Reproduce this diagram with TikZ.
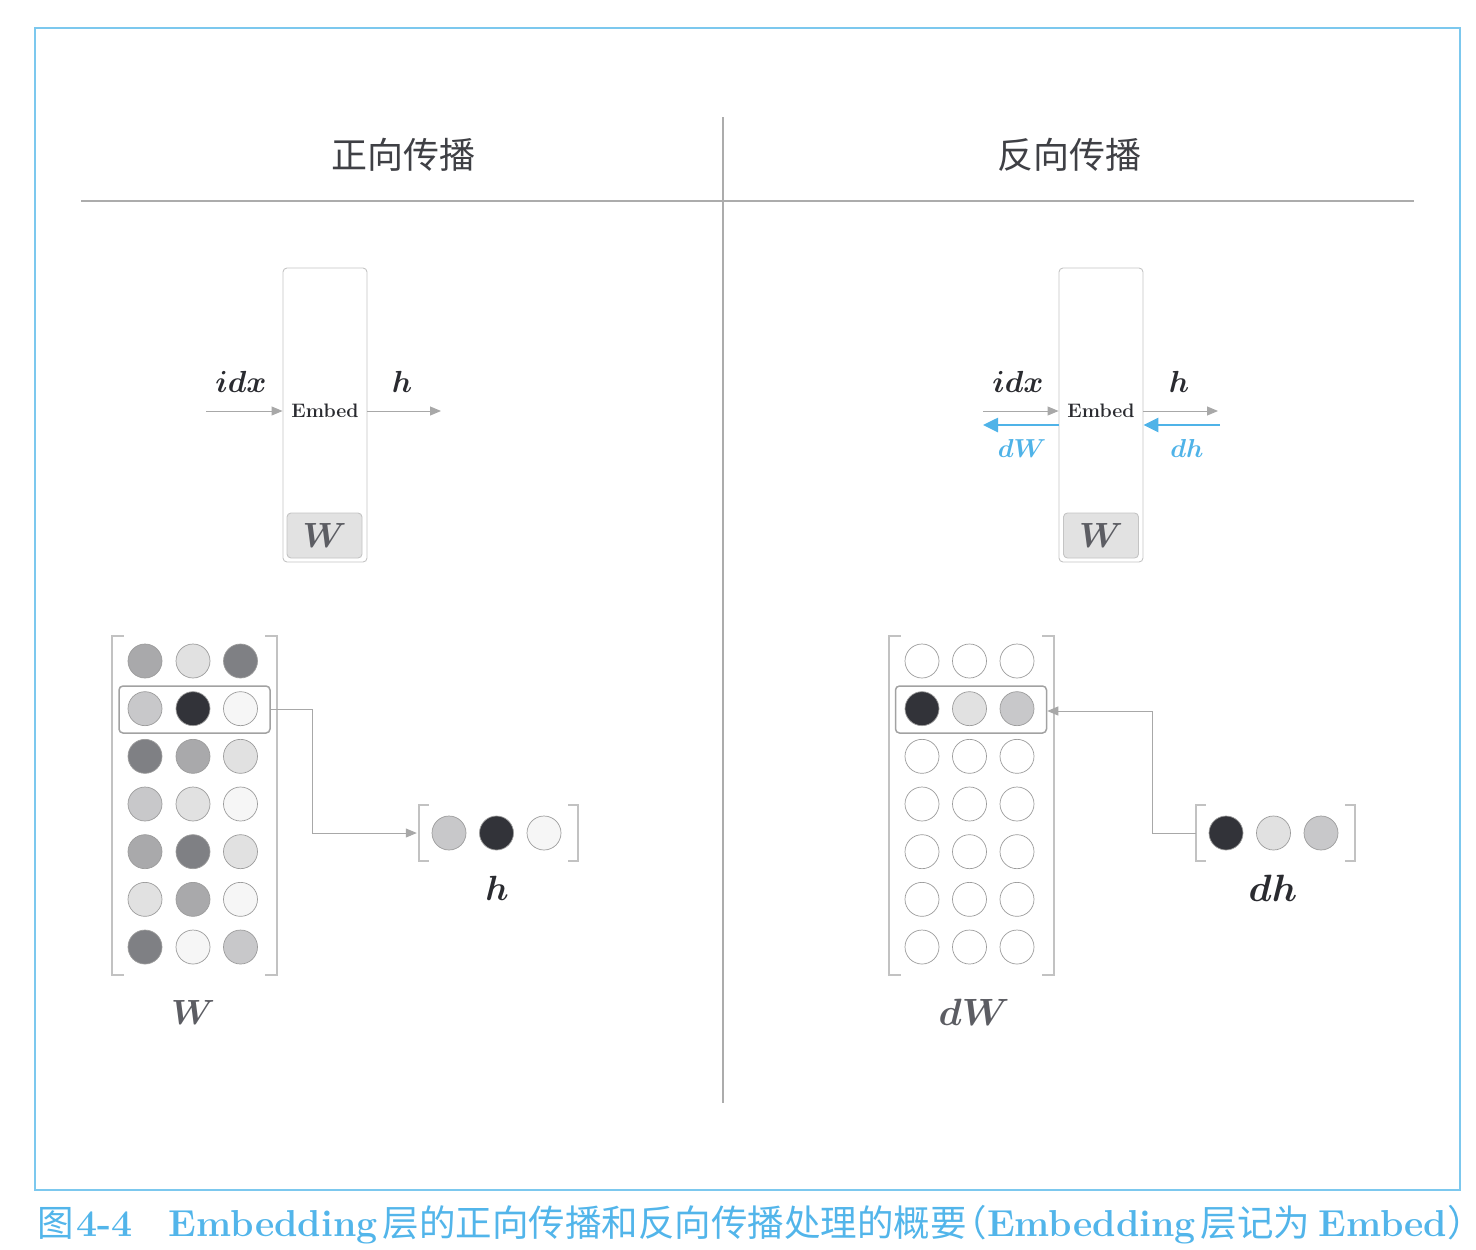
\RequirePackage{fix-cm}
\documentclass[tikz,border=0pt]{standalone}
\usepackage{fontspec}
\usepackage{bm}
\newfontfamily\cjk{Noto Sans CJK SC}
\usetikzlibrary{arrows.meta,calc}
\definecolor{framebl}{HTML}{7CC8EE}
\definecolor{capblue}{HTML}{52B5EA}
\definecolor{arrblue}{HTML}{4FB3E8}
\definecolor{sepgray}{HTML}{ACACAC}
\definecolor{boxgray}{HTML}{C4C4C4}
\definecolor{wfill}{HTML}{E2E2E2}
\definecolor{wtext}{HTML}{5C5D63}
\definecolor{txt}{HTML}{2A2B30}
\definecolor{arrgray}{HTML}{A8A8A8}
\definecolor{cellline}{HTML}{9C9C9C}
\definecolor{rowgray}{HTML}{A2A2A2}
\definecolor{brkgray}{HTML}{C2C2C2}
\definecolor{ga}{HTML}{A9A9AB}
\definecolor{gb}{HTML}{E1E1E1}
\definecolor{gc}{HTML}{7F8084}
\definecolor{gd}{HTML}{C8C8CA}
\definecolor{ge}{HTML}{323339}
\definecolor{gf}{HTML}{F6F6F6}
\newcommand{\latcap}[1]{{\rmfamily\bfseries\fontsize{37.5}{40}\selectfont #1}}
\tikzset{
  frame/.style={draw=framebl, line width=1.2pt},
  sepline/.style={draw=sepgray, line width=1.8pt},
  embbox/.style={draw=boxgray, line width=0.9pt, rounded corners=4pt, minimum width=84pt, minimum height=294pt, inner sep=0pt},
  wbox/.style={draw=boxgray, fill=wfill, line width=0.9pt, rounded corners=4pt, minimum width=75pt, minimum height=45pt, inner sep=0pt, text=wtext, font=\fontsize{35}{40}\selectfont},
  embtext/.style={text=txt, font=\fontsize{19.5}{24}\selectfont\bfseries, inner sep=0pt},
  heading/.style={text=txt!90, font=\cjk\fontsize{36}{40}\selectfont, inner sep=0pt},
  mlabel/.style={text=txt, font=\fontsize{30.5}{34}\selectfont, inner sep=0pt},
  blabel/.style={text=arrblue, font=\fontsize{26}{30}\selectfont, inner sep=0pt},
  biglabel/.style={font=\fontsize{35}{40}\selectfont, inner sep=0pt},
  dlabel/.style={font=\fontsize{38}{42}\selectfont, inner sep=0pt},
  cell/.style={circle, draw=cellline, line width=0.7pt, minimum size=34pt, inner sep=0pt},
  arr/.style={draw=arrgray, line width=1pt, -{Triangle[length=11pt,width=9pt]}},
  barr/.style={draw=arrblue, line width=2.6pt, -{Triangle[length=15pt,width=14pt]}},
  rowbox/.style={draw=rowgray, line width=1.5pt, rounded corners=4pt, minimum width=151pt, minimum height=47pt, inner sep=0pt},
  brk/.style={draw=brkgray, line width=1.5pt},
  matbox/.style={minimum width=165pt, minimum height=339pt, inner sep=0pt},
  vecbox/.style={minimum width=159pt, minimum height=56pt, inner sep=0pt},
}
\begin{document}
\begin{tikzpicture}[x=1pt,y=-1pt]
\useasboundingbox (0,0) rectangle (1476,1250);
% frame
\draw[frame] (35,28) rectangle (1460,1190);
% separators
\coordinate (hl) at (81,201);
\coordinate (hr) at (1414,201);
\coordinate (vt) at (723,117);
\coordinate (vb) at (723,1103);
\draw[sepline] (hl) -- (hr);
\draw[sepline] (vt) -- (vb);
% headings
\node[heading] (h1) at (403,155) {正向传播};
\node[heading] (h2) at (1069,155) {反向传播};

% ---------- forward Embed ----------
\node[embbox] (emb1) at (325,415) {};
\node[wbox] (wb1) at (324.5,535.5) {$\bm{W}$};
\node[embtext] (et1) at (325,411) {Embed};
\coordinate (idx1s) at (206,411);
\coordinate (h1e) at (441,411);
\draw[arr] (idx1s) -- (idx1s -| emb1.west);
\draw[arr] (h1e -| emb1.east) -- (h1e);
\node[mlabel] (lidx1) at (241,382) {$\bm{idx}$};
\node[mlabel] (lh1) at (402,382) {$\bm{h}$};

% ---------- backward Embed ----------
\node[embbox] (emb2) at (1101,415) {};
\node[wbox] (wb2) at (1101,535.5) {$\bm{W}$};
\node[embtext] (et2) at (1101,411) {Embed};
\coordinate (idx2s) at (983,411);
\coordinate (h2e) at (1218,411);
\draw[arr] (idx2s) -- (idx2s -| emb2.west);
\draw[arr] (h2e -| emb2.east) -- (h2e);
\coordinate (dWe) at (983,425);
\coordinate (dhs) at (1220,425);
\draw[barr] (dWe -| emb2.west) -- (dWe);
\draw[barr] (dhs) -- (dhs -| emb2.east);
\node[mlabel] (lidx2) at (1018,382) {$\bm{idx}$};
\node[mlabel] (lh2) at (1179,382) {$\bm{h}$};
\node[blabel] (ldW) at (1022,448) {$\bm{dW}$};
\node[blabel] (ldh) at (1187,448) {$\bm{dh}$};

% ---------- W matrix ----------
\node[matbox] (wmat) at (194.5,805.5) {};
\draw[brk] ([xshift=12pt]wmat.north west) -- (wmat.north west) -- (wmat.south west) -- ([xshift=12pt]wmat.south west);
\draw[brk] ([xshift=-12pt]wmat.north east) -- (wmat.north east) -- (wmat.south east) -- ([xshift=-12pt]wmat.south east);
\foreach \r/\a/\b/\c in {1/ga/gb/gc, 2/gd/ge/gf, 3/gc/ga/gb, 4/gd/gb/gf, 5/ga/gc/gb, 6/gb/ga/gf, 7/gc/gf/gd}{
  \node[cell, fill=\a] (w-\r-1) at (145,{661+(\r-1)*47.67}) {};
  \node[cell, fill=\b] (w-\r-2) at (193,{661+(\r-1)*47.67}) {};
  \node[cell, fill=\c] (w-\r-3) at (240.5,{661+(\r-1)*47.67}) {};
}
\node[rowbox] (wrow) at (194.5,709.5) {};
\node[biglabel, text=wtext] (lW) at (193,1012) {$\bm{W}$};

% h vector
\node[vecbox] (hvec) at (498.5,833) {};
\draw[brk] ([xshift=10pt]hvec.north west) -- (hvec.north west) -- (hvec.south west) -- ([xshift=10pt]hvec.south west);
\draw[brk] ([xshift=-10pt]hvec.north east) -- (hvec.north east) -- (hvec.south east) -- ([xshift=-10pt]hvec.south east);
\node[cell, fill=gd] (h-1) at (449,833) {};
\node[cell, fill=ge] (h-2) at (496.5,833) {};
\node[cell, fill=gf] (h-3) at (544,833) {};
\node[biglabel, text=txt] (lhv) at (497,888) {$\bm{h}$};
\draw[arr] (wrow.east) -- ++(42,0) |- ([xshift=-2pt]hvec.west);

% ---------- dW matrix ----------
\node[matbox] (dwmat) at (971.5,805.5) {};
\draw[brk] ([xshift=12pt]dwmat.north west) -- (dwmat.north west) -- (dwmat.south west) -- ([xshift=12pt]dwmat.south west);
\draw[brk] ([xshift=-12pt]dwmat.north east) -- (dwmat.north east) -- (dwmat.south east) -- ([xshift=-12pt]dwmat.south east);
\foreach \r/\a/\b/\c in {1/white/white/white, 2/ge/gb/gd, 3/white/white/white, 4/white/white/white, 5/white/white/white, 6/white/white/white, 7/white/white/white}{
  \node[cell, fill=\a] (dw-\r-1) at (922,{661+(\r-1)*47.67}) {};
  \node[cell, fill=\b] (dw-\r-2) at (969.5,{661+(\r-1)*47.67}) {};
  \node[cell, fill=\c] (dw-\r-3) at (1017,{661+(\r-1)*47.67}) {};
}
\node[rowbox] (dwrow) at (971,709.5) {};
\node[dlabel, text=wtext] (ldW2) at (974,1012) {$\bm{dW}$};

% dh vector
\node[vecbox] (dhvec) at (1275.5,833) {};
\draw[brk] ([xshift=10pt]dhvec.north west) -- (dhvec.north west) -- (dhvec.south west) -- ([xshift=10pt]dhvec.south west);
\draw[brk] ([xshift=-10pt]dhvec.north east) -- (dhvec.north east) -- (dhvec.south east) -- ([xshift=-10pt]dhvec.south east);
\node[cell, fill=ge] (dh-1) at (1226,833) {};
\node[cell, fill=gb] (dh-2) at (1273.5,833) {};
\node[cell, fill=gd] (dh-3) at (1321,833) {};
\node[dlabel, text=txt] (ldhv) at (1273,888) {$\bm{dh}$};
\draw[arr] (dhvec.west) -- ++(-43,0) |- ([yshift=-1.5pt]dwrow.east);

% caption
\node[anchor=base west, text=capblue, inner sep=0pt, font=\cjk\fontsize{36.5}{40}\selectfont] (cap) at (37,1236)
  {图\hspace{3pt}\latcap{4-4}\hspace{36pt}\latcap{Embedding}\hspace{5pt}层的正向传播和反向传播处理的概要\hspace{-16pt}（\latcap{Embedding}\hspace{5pt}层记为\hspace{8pt}\latcap{Embed}）\hspace{-18pt}};
\end{tikzpicture}
\end{document}
